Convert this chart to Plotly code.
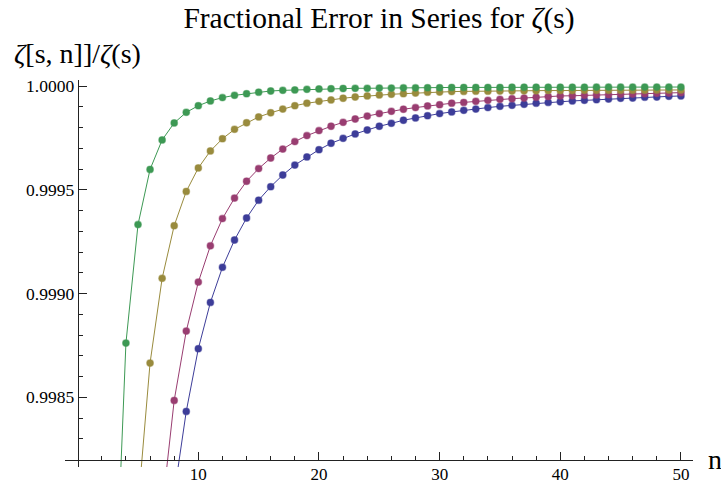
import plotly.graph_objects as go

# ---- data ----
n_blue = list(range(8, 51))
v_blue = [0.998034, 0.998432, 0.998734, 0.998957, 0.999126, 0.999258, 0.999364, 0.999450,
          0.999515, 0.999571, 0.999619, 0.999658, 0.999693, 0.999724, 0.999748, 0.999769,
          0.999788, 0.999806, 0.999820, 0.999835, 0.999846, 0.999857, 0.999867, 0.999875,
          0.999883, 0.999889, 0.999896, 0.999902, 0.999907, 0.999912, 0.999917, 0.999921,
          0.999924, 0.999928, 0.999931, 0.999934, 0.999937, 0.999941, 0.999942, 0.999946,
          0.999947, 0.999950, 0.999952]

n_purple = list(range(7, 51))
v_purple = [0.997959, 0.998485, 0.998819, 0.999055, 0.999230, 0.999361, 0.999460, 0.999541,
            0.999602, 0.999653, 0.999696, 0.999732, 0.999761, 0.999785, 0.999806, 0.999825,
            0.999841, 0.999855, 0.999867, 0.999878, 0.999888, 0.999896, 0.999904, 0.999910,
            0.999917, 0.999921, 0.999926, 0.999931, 0.999936, 0.999939, 0.999942, 0.999946,
            0.999949, 0.999952, 0.999953, 0.999955, 0.999957, 0.999958, 0.999960, 0.999961,
            0.999963, 0.999965, 0.999966, 0.999968]

n_gold = list(range(5, 51))
v_gold = [0.997973, 0.998665, 0.999073, 0.999327, 0.999492, 0.999605, 0.999687, 0.999746,
          0.999791, 0.999823, 0.999851, 0.999871, 0.999889, 0.999905, 0.999917, 0.999926,
          0.999933, 0.999941, 0.999947, 0.999952, 0.999957, 0.999960, 0.999963, 0.999966,
          0.999970, 0.999971, 0.999973, 0.999974, 0.999975, 0.999975, 0.999976, 0.999976,
          0.999977, 0.999977, 0.999978, 0.999978, 0.999978, 0.999979, 0.999979, 0.999979,
          0.999980, 0.999980, 0.999980, 0.999981, 0.999981, 0.999981]

n_green = list(range(3, 51))
v_green = [0.997325, 0.998761, 0.999332, 0.999598, 0.999740, 0.999822, 0.999873, 0.999905,
           0.999928, 0.999944, 0.999955, 0.999963, 0.999970, 0.999976, 0.999979, 0.999981,
           0.999984, 0.999986, 0.999987, 0.999988, 0.999989, 0.999989, 0.999990, 0.999990,
           0.999991, 0.999991, 0.999992, 0.999992, 0.999993, 0.999993, 0.999993, 0.999993,
           0.999993, 0.999994, 0.999994, 0.999994, 0.999994, 0.999994, 0.999994, 0.999994,
           0.999995, 0.999995, 0.999995, 0.999995, 0.999995, 0.999995, 0.999995, 0.999995]

x_tick_vals = [10, 20, 30, 40, 50]
x_tick_text = ["10", "20", "30", "40", "50"]
y_tick_vals = [0.9985, 0.9990, 0.9995, 1.0000]
y_tick_text = ["0.9985", "0.9990", "0.9995", "1.0000"]

title_text = "Fractional Error in Series for <i>ζ</i>(s)"
ylabel_text = "<i>ζ</i>[s, n]]/<i>ζ</i>(s)"
xlabel_text = "n"

# ---- styling ----
series = [
    (n_blue, v_blue, "rgb(61,61,153)", "rgba(61,61,153,0.45)"),
    (n_purple, v_purple, "rgb(153,61,113)", "rgba(153,61,113,0.45)"),
    (n_gold, v_gold, "rgb(153,139,61)", "rgba(153,139,61,0.45)"),
    (n_green, v_green, "rgb(61,153,84)", "rgba(61,153,84,0.45)"),
]

X_RANGE = [-1.05, 51.0]
Y_RANGE = [0.998164, 1.0000289]
Y_AXIS_AT = 0.0
X_AXIS_AT = 0.9982

fig = go.Figure()
for xs, ys, col, halo in series:
    fig.add_trace(go.Scatter(
        x=xs, y=ys, mode="lines+markers",
        line=dict(color=col, width=1),
        marker=dict(color=col, size=6.8, line=dict(color=halo, width=1.2)),
        showlegend=False, cliponaxis=True, hoverinfo="skip",
    ))

font_family = "Liberation Serif"
axis_color = "#222222"

fig.update_layout(
    width=721, height=484,
    margin=dict(l=65, r=28, t=80, b=17, autoexpand=False),
    paper_bgcolor="white", plot_bgcolor="white",
    font=dict(family=font_family, color="black"),
    title=dict(text=title_text, x=0.5, xref="paper", xanchor="center",
               y=1 - 18 / 484, yref="container", yanchor="middle",
               font=dict(size=29.5, family=font_family, color="black")),
    xaxis=dict(
        range=X_RANGE, anchor="free", automargin=False,
        position=(X_AXIS_AT - Y_RANGE[0]) / (Y_RANGE[1] - Y_RANGE[0]),
        showgrid=False, zeroline=False, showline=True, linecolor=axis_color, linewidth=1,
        tickmode="array", tickvals=x_tick_vals, ticktext=x_tick_text,
        ticks="inside", ticklen=8, tickwidth=1, tickcolor=axis_color,
        ticklabelstandoff=-1,
        tickfont=dict(size=17, family=font_family, color="black"),
        minor=dict(tickmode="array", tickvals=[v for v in range(2, 51, 2) if v % 10],
                   ticks="inside", ticklen=4, tickwidth=1, tickcolor=axis_color, showgrid=False),
    ),
    yaxis=dict(
        range=Y_RANGE, anchor="free", automargin=False,
        position=(Y_AXIS_AT - X_RANGE[0]) / (X_RANGE[1] - X_RANGE[0]),
        showgrid=False, zeroline=False, showline=True, linecolor=axis_color, linewidth=1,
        tickmode="array", tickvals=y_tick_vals, ticktext=y_tick_text,
        ticks="inside", ticklen=8, tickwidth=1, tickcolor=axis_color,
        tickfont=dict(size=17.5, family=font_family, color="black"),
        minor=dict(tickmode="array",
                   tickvals=[round(0.9983 + 0.0001 * i, 4) for i in range(17)
                             if round(0.9983 + 0.0001 * i, 4) not in y_tick_vals],
                   ticks="inside", ticklen=4, tickwidth=1, tickcolor=axis_color, showgrid=False),
    ),
    annotations=[
        dict(text=ylabel_text, xref="paper", yref="paper", x=-65 / 628 + 12 / 628, y=1 + 9 / 387,
             xanchor="left", yanchor="bottom", showarrow=False,
             font=dict(size=28, family=font_family, color="black")),
        dict(text=xlabel_text, xref="paper", yref="paper", x=1 + 22 / 628,
             y=(X_AXIS_AT - Y_RANGE[0]) / (Y_RANGE[1] - Y_RANGE[0]),
             xanchor="center", yanchor="middle", showarrow=False,
             font=dict(size=28, family=font_family, color="black")),
    ],
)

fig.write_html("out.html", config={"displayModeBar": False},
               post_script="document.body.style.margin='0';")
